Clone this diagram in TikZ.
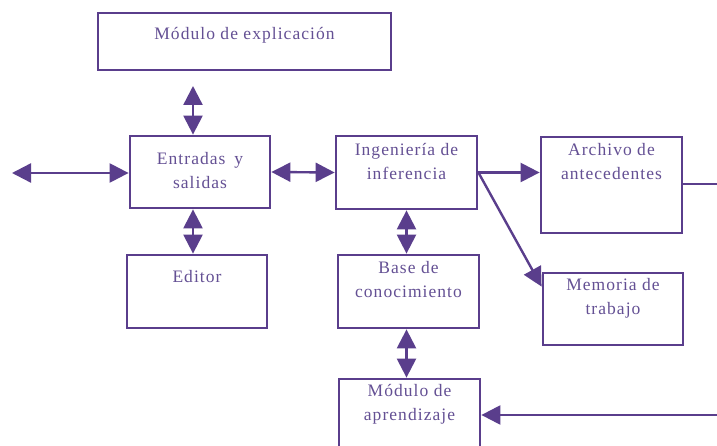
\documentclass[tikz,border=0pt]{standalone}
\usepackage{fontspec}
\setmainfont{Liberation Serif}[LetterSpace=6]
\usetikzlibrary{arrows.meta}
\definecolor{lc}{RGB}{90,62,140}
\definecolor{tc}{RGB}{100,80,148}
\begin{document}
\begin{tikzpicture}[x=1pt,y=-1pt,
  box/.style={draw=lc, line width=2.8pt, inner sep=0pt},
  txt/.style={anchor=north, inner sep=0pt, text=tc, align=center,
    font=\fontsize{17.5}{23.5}\selectfont},
  arr/.style={draw=lc, line width=2.4pt, -{Triangle[length=19pt,width=19pt]}},
  darr/.style={draw=lc, line width=2.4pt, {Triangle[length=19pt,width=19pt]}-{Triangle[length=19pt,width=19pt]}}]
\fill[white] (0,0) rectangle (717,446);
\useasboundingbox (0,0) rectangle (717,446);
% boxes
\node[box, minimum width=293pt, minimum height=57pt,
  label={[txt, yshift=-16pt]north:{Módulo de explicación}}] (expl) at (244.5,41.5) {};
\node[box, minimum width=140pt, minimum height=72pt,
  label={[txt, yshift=-18pt]north:{Entradas\enspace y\\salidas}}] (ent) at (200,172) {};
\node[box, minimum width=141pt, minimum height=73pt,
  label={[txt, yshift=-9pt]north:{Ingeniería de\\inferencia}}] (ing) at (406.5,172.5) {};
\node[box, minimum width=141pt, minimum height=96pt,
  label={[txt, yshift=-8pt]north:{Archivo de\\antecedentes}}] (arch) at (611.5,185) {};
\node[box, minimum width=140pt, minimum height=72pt,
  label={[txt, yshift=-7pt]north:{Memoria de\\trabajo}}] (mem) at (613,309) {};
\node[box, minimum width=141pt, minimum height=73pt,
  label={[txt, yshift=-8pt]north:{Base de\\conocimiento}}] (base) at (408.5,291.5) {};
\node[box, minimum width=141pt, minimum height=91pt,
  label={[txt, yshift=-7pt]north:{Módulo de\\aprendizaje}}] (apr) at (409.5,424.5) {};
\node[box, minimum width=140pt, minimum height=73pt,
  label={[txt, yshift=-17pt]north:{Editor}}] (ed) at (197,291.5) {};
% helper coordinates
\coordinate (xa) at (193,0);
\coordinate (xb) at (406.5,0);
\coordinate (explend) at (193,86);
\coordinate (L) at (12,173);
\coordinate (R1) at (717,184);
\coordinate (R2) at (717,415);
% connectors
\draw[darr] (explend) -- (ent.north -| xa);
\draw[darr] (L) -- (L -| ent.west);
\draw[darr] (ent.east) -- (ing.west);
\draw[arr] (ing.east) -- (ing.east -| arch.west);
\draw[arr] (ing.east) -- ([yshift=-15pt]mem.north west);
\draw[draw=lc, line width=2.4pt] (R1 -| arch.east) -- (R1);
\draw[darr] (ing.south -| xb) -- (base.north -| xb);
\draw[darr] (base.south -| xb) -- (apr.north -| xb);
\draw[darr] (ent.south -| xa) -- (ed.north -| xa);
\draw[arr] (R2) -- (R2 -| apr.east);
\end{tikzpicture}
\end{document}
